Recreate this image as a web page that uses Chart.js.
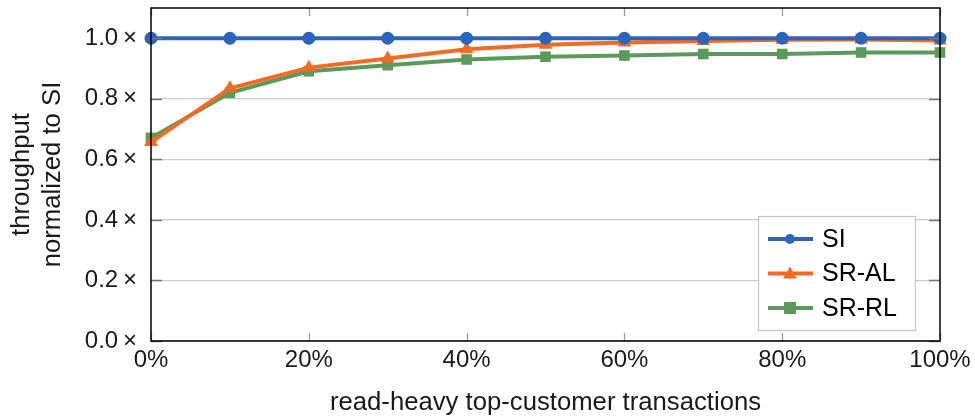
<!DOCTYPE html>
<html>
<head>
<meta charset="utf-8">
<script src="https://cdn.jsdelivr.net/npm/chart.js@4/dist/chart.umd.min.js"></script>
<style>
  html, body { margin: 0; padding: 0; background: #fff; }
  #wrap { position: relative; width: 975px; height: 418px; }
</style>
</head>
<body>
<div id="wrap"><canvas id="c" width="975" height="418"></canvas></div>
<script>
// Share of read-heavy top-customer transactions (%)
const readHeavyPct = [0, 10, 20, 30, 40, 50, 60, 70, 80, 90, 100];
// Throughput normalized to SI
const siValues   = [1.0, 1.0, 1.0, 1.0, 1.0, 1.0, 1.0, 1.0, 1.0, 1.0, 1.0];
const srAlValues = [0.657, 0.835, 0.903, 0.933, 0.964, 0.979, 0.986, 0.991, 0.995, 0.996, 0.993];
const srRlValues = [0.671, 0.820, 0.891, 0.911, 0.930, 0.939, 0.943, 0.948, 0.948, 0.953, 0.953];
const xTicks = [0, 20, 40, 60, 80, 100];
const yTicks = [0, 0.2, 0.4, 0.6, 0.8, 1.0];

const FONT = '"Liberation Sans", Arial, Helvetica, sans-serif';
const TEXT = '#1a1a1a';

function points(vals) {
  return readHeavyPct.map((x, i) => ({ x: x, y: vals[i] }));
}

// Inner tick marks on all four sides plus the black frame
const frameTicks = {
  id: 'frameTicks',
  afterDatasetsDraw(chart) {
    const { ctx, chartArea: a, scales: { x, y } } = chart;
    ctx.save();
    ctx.lineWidth = 1.3;
    ctx.strokeStyle = '#9a9a9a';
    xTicks.forEach(v => {
      const px = Math.round(x.getPixelForValue(v)) + 0.5;
      ctx.beginPath();
      ctx.moveTo(px, a.top); ctx.lineTo(px, a.top + 8);
      ctx.moveTo(px, a.bottom); ctx.lineTo(px, a.bottom - 8);
      ctx.stroke();
    });
    ctx.strokeStyle = '#777';
    yTicks.forEach(v => {
      const py = Math.round(y.getPixelForValue(v)) + 0.5;
      ctx.beginPath();
      ctx.moveTo(a.left, py); ctx.lineTo(a.left + 11, py);
      ctx.moveTo(a.right, py); ctx.lineTo(a.right - 11, py);
      ctx.stroke();
    });
    ctx.strokeStyle = '#000';
    ctx.lineWidth = 1.5;
    ctx.strokeRect(a.left, a.top, a.right - a.left, a.bottom - a.top);
    ctx.restore();
  }
};

// Legend box drawn inside the plot, lower right
const innerLegend = {
  id: 'innerLegend',
  afterDraw(chart) {
    const ctx = chart.ctx;
    const bx = 758, by = 216, bw = 157, bh = 114;
    ctx.save();
    ctx.fillStyle = '#fff';
    ctx.fillRect(bx, by, bw, bh);
    ctx.strokeStyle = '#c4c4c4';
    ctx.lineWidth = 1.2;
    ctx.strokeRect(bx + 0.5, by + 0.5, bw, bh);
    chart.data.datasets.forEach((ds, i) => {
      const cy = by + 23 + i * 34.5;
      ctx.strokeStyle = ds.borderColor;
      ctx.lineWidth = ds.borderWidth;
      ctx.beginPath();
      ctx.moveTo(bx + 10, cy); ctx.lineTo(bx + 55, cy);
      ctx.stroke();
      ctx.fillStyle = ds.borderColor;
      const mx = bx + 32;
      ctx.beginPath();
      if (ds.pointStyle === 'circle') {
        ctx.arc(mx, cy, 5, 0, Math.PI * 2);
      } else if (ds.pointStyle === 'triangle') {
        ctx.moveTo(mx, cy - 7); ctx.lineTo(mx + 7, cy + 5); ctx.lineTo(mx - 7, cy + 5); ctx.closePath();
      } else {
        ctx.rect(mx - 6, cy - 6, 12, 12);
      }
      ctx.fill();
      ctx.fillStyle = '#000';
      ctx.font = '25px ' + FONT;
      ctx.textBaseline = 'middle';
      ctx.fillText(ds.label, bx + 64, cy + 1);
    });
    ctx.restore();
  }
};

new Chart(document.getElementById('c'), {
  type: 'line',
  data: {
    datasets: [
      { label: 'SI', data: points(siValues), borderColor: '#2c64bd', backgroundColor: '#2c64bd',
        borderWidth: 4, pointStyle: 'circle', pointRadius: 6.5, pointBorderWidth: 0 },
      { label: 'SR-AL', data: points(srAlValues), borderColor: '#f26a24', backgroundColor: '#f26a24',
        borderWidth: 4, pointStyle: 'triangle', pointRadius: 8, pointBorderWidth: 0 },
      { label: 'SR-RL', data: points(srRlValues), borderColor: '#5b9a5b', backgroundColor: '#5b9a5b',
        borderWidth: 4, pointStyle: 'rect', pointRadius: 7.5, pointBorderWidth: 0 }
    ]
  },
  options: {
    responsive: false,
    animation: false,
    clip: false,
    layout: { padding: { left: 0, top: 7, right: 35, bottom: 0 } },
    plugins: { legend: { display: false }, tooltip: { enabled: false } },
    scales: {
      x: {
        type: 'linear', min: 0, max: 100,
        afterFit: s => { s.height = 77; s.paddingLeft = 0; s.paddingRight = 0; },
        afterBuildTicks: s => { s.ticks = xTicks.map(v => ({ value: v })); },
        grid: { display: false, drawTicks: false },
        border: { display: false },
        ticks: { color: TEXT, font: { family: FONT, size: 24 }, padding: 5, maxRotation: 0,
                 callback: v => v + '%' },
        title: { display: true, text: 'read-heavy top-customer transactions', color: TEXT,
                 font: { family: FONT, size: 25.7, lineHeight: 1.2 }, padding: { top: 0, bottom: 0 } }
      },
      y: {
        min: 0, max: 1.1,
        afterFit: s => { s.width = 151; s.paddingTop = 0; s.paddingBottom = 0; },
        afterBuildTicks: s => { s.ticks = yTicks.map(v => ({ value: v })); },
        grid: { color: '#cccccc', lineWidth: 1.2, drawTicks: false },
        border: { display: false },
        ticks: { color: TEXT, font: { family: FONT, size: 24 }, padding: 14,
                 callback: v => v.toFixed(1) + '\u2009\u00d7' },
        title: { display: true, text: ['throughput', 'normalized to SI'], color: TEXT,
                 font: { family: FONT, size: 25.7, lineHeight: 1.2 }, padding: { top: 6.5, bottom: 0 } }
      }
    }
  },
  plugins: [frameTicks, innerLegend]
});
</script>
</body>
</html>
